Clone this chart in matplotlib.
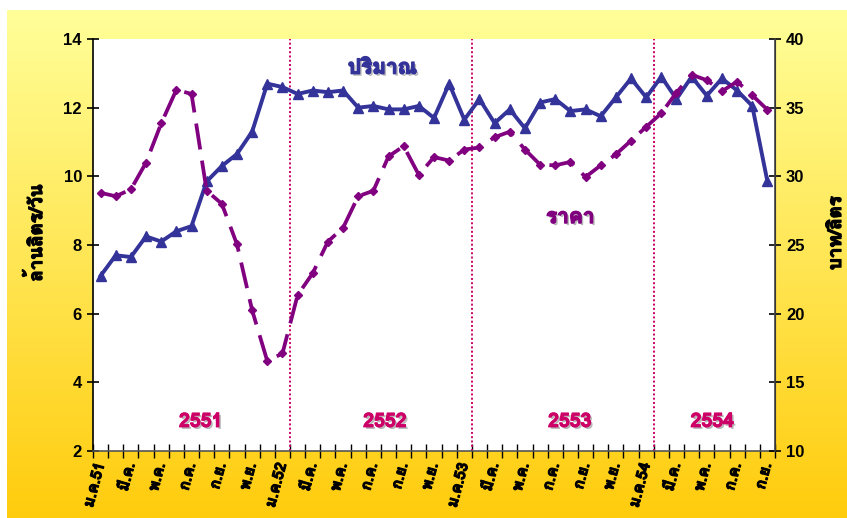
"""
Recreate: ปริมาณ (ล้านลิตร/วัน) vs ราคา (บาท/ลิตร), ม.ค.51 - ก.ย.54
"""
import numpy as np
import matplotlib
matplotlib.use("Agg")
import matplotlib.pyplot as plt
import matplotlib.patheffects as pe
from matplotlib import font_manager as fm
from matplotlib.ft2font import FT2Font

MONTHS = ['ม.ค.', 'ก.พ.', 'มี.ค.', 'เม.ย.', 'พ.ค.', 'มิ.ย.',
          'ก.ค.', 'ส.ค.', 'ก.ย.', 'ต.ค.', 'พ.ย.', 'ธ.ค.']
YEARS = ['51', '52', '53', '54']
YEAR_LABELS = ['2551', '2552', '2553', '2554']

# ปริมาณ (ล้านลิตร/วัน), แกนซ้าย
volume = [7.1, 7.7, 7.65, 8.25, 8.1, 8.4, 8.55, 9.85, 10.3, 10.65, 11.3, 12.7,
          12.6, 12.4, 12.5, 12.45, 12.5, 12.0, 12.05, 11.95, 11.95, 12.05, 11.7, 12.7,
          11.65, 12.25, 11.55, 11.95, 11.4, 12.15, 12.25, 11.9, 11.95, 11.75, 12.3, 12.85,
          12.3, 12.9, 12.25, 12.9, 12.35, 12.85, 12.5, 12.05, 9.85]
# ราคา (บาท/ลิตร), แกนขวา
price = [28.8, 28.55, 29.05, 31.0, 33.85, 36.3, 36.0, 28.95, 28.0, 25.05, 20.25, 16.55,
         17.1, 21.35, 22.95, 25.25, 26.25, 28.55, 28.95, 31.45, 32.2, 30.1, 31.4, 31.15,
         31.95, 32.1, 32.85, 33.25, 31.95, 30.85, 30.8, 31.05, 29.95, 30.8, 31.6, 32.6,
         33.6, 34.6, 36.1, 37.4, 37.0, 36.2, 36.9, 35.9, 34.85]

BLUE = "#333399"
PURPLE = "#800080"
PINK = "#CC0066"


def thai_font():
    for f in fm.fontManager.ttflist:
        try:
            if FT2Font(f.fname).get_char_index(ord('ก')):
                return f.name
        except Exception:
            pass
    return "DejaVu Sans"


TH = thai_font()
plt.rcParams['font.family'] = [TH, 'Liberation Sans', 'DejaVu Sans']


def heavy(color, w=0.9):
    # ฟอนต์ไทยไม่มีตัวหนา -> เพิ่มเส้นขอบให้ดูหนา
    return [pe.withStroke(linewidth=w, foreground=color)]


cats = []
for y in YEARS:
    for m in MONTHS:
        cats.append(m + y if m == 'ม.ค.' else m)
cats = cats[:len(volume)]
x = np.arange(len(cats))

fig = plt.figure(figsize=(8.47, 5.18), dpi=100)

# พื้นหลังไล่สีเหลือง
bg = fig.add_axes([7 / 847, 0, 840 / 847, 508 / 518], zorder=-5)
top = np.array([1.0, 1.0, 0.60])
bot = np.array([1.0, 0.80, 0.05])
t = np.linspace(0, 1, 256)[:, None]
grad = (top[None, :] * (1 - t) + bot[None, :] * t)[:, None, :]
bg.imshow(grad, aspect='auto', extent=[0, 1, 0, 1])
bg.axis('off')

ax = fig.add_axes([93 / 847, 67 / 518, 682 / 847, 412 / 518])
ax.set_facecolor("white")
ax.plot(x, volume, color=BLUE, lw=2.8, marker='^', ms=7.5, zorder=3)
ax.set_xlim(-0.5, len(cats) - 0.5)
ax.set_ylim(2, 14)
ax.set_yticks(range(2, 15, 2))

ax2 = ax.twinx()
ax2.plot(x, price, color=PURPLE, lw=2.7, marker='D', ms=4.5,
         dashes=(7, 3), zorder=4)
ax2.set_ylim(10, 40)
ax2.set_yticks(range(10, 41, 5))

# เส้นแบ่งปี
for b in (12.5, 24.5, 36.5):
    ax.axvline(b, color=PINK, lw=1.4, ls=(0, (1, 1.2)), zorder=2)

for a in (ax, ax2):
    a.spines['top'].set_visible(False)
    a.tick_params(axis='y', direction='inout', length=9, width=1.2,
                  labelsize=12)
ax.spines['left'].set_linewidth(1.2)
ax2.spines['right'].set_linewidth(1.2)
ax2.spines['right'].set_color("#444444")
ax.spines['bottom'].set_color("#555555")
ax.spines['bottom'].set_linewidth(1.2)
ax2.spines['left'].set_visible(False)
ax2.spines['bottom'].set_visible(False)
for lab in ax.get_yticklabels() + ax2.get_yticklabels():
    lab.set_fontweight('bold')
    lab.set_fontfamily(['Liberation Sans', 'DejaVu Sans'])

ax.set_xticks(np.arange(-0.5, len(cats), 1))
ax.set_xticklabels([])
ax.tick_params(axis='x', which='major', direction='inout', length=10, width=1)
ax.set_xticks(x[::2], minor=True)
ax.set_xticklabels(cats[::2], minor=True, rotation=75, ha='right',
                   va='center', rotation_mode='anchor', fontsize=11,
                   fontweight='bold')
ax.tick_params(axis='x', which='minor', length=0, pad=9)
for lab in ax.get_xticklabels(minor=True):
    lab.set_path_effects(heavy('black', 0.8))

fig.text(0.042, 0.55, "ล้านลิตร/วัน", rotation=90, ha='center', va='center',
         fontsize=13.5, fontweight='bold', path_effects=heavy('black'))
fig.text(0.987, 0.55, "บาท/ลิตร", rotation=90, ha='center', va='center',
         fontsize=13.5, fontweight='bold', path_effects=heavy('black'))

shadow = [pe.withSimplePatchShadow(offset=(1.5, -1.5), shadow_rgbFace='#999999',
                                   alpha=0.7)]
ax.text(18.6, 13.15, "ปริมาณ", color=BLUE, fontsize=15, fontweight='bold',
        ha='center', va='center',
        path_effects=shadow + heavy(BLUE, 1.0))
ax2.text(31.0, 27.0, "ราคา", color=PURPLE, fontsize=15, fontweight='bold',
         ha='center', va='center',
         path_effects=shadow + heavy(PURPLE, 1.0))
for xc, lab in zip((6.6, 18.75, 30.95, 40.35), YEAR_LABELS):
    ax.text(xc, 2.85, lab, color=PINK, fontsize=14, fontweight='bold',
            ha='center', va='center',
            path_effects=shadow + heavy(PINK, 0.9))

fig.savefig("out.png", dpi=100)
